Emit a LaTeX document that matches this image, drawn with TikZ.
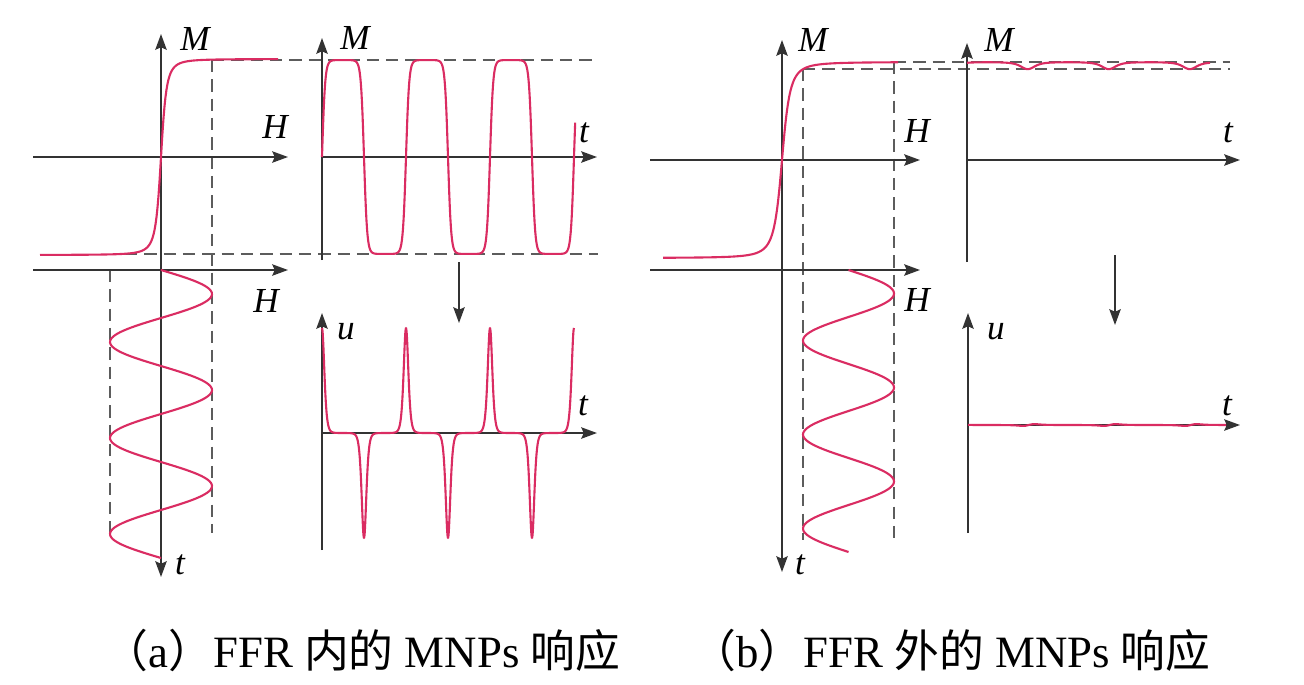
\documentclass[tikz,border=0pt]{standalone}
\usepackage{fontspec}
\setmainfont{Liberation Serif}
\newfontfamily\cjk{Noto Sans CJK SC}
\usetikzlibrary{arrows.meta}
\definecolor{ax}{HTML}{333333}
\definecolor{gd}{HTML}{5C5C5C}
\definecolor{rd}{HTML}{DA2C62}
\newcommand{\zh}[1]{{\cjk #1}}

\tikzset{
  >={Stealth[length=9pt, width=6.5pt, inset=1.5pt]},
  axis/.style={draw=ax, line width=1.1pt, ->},
  guide/.style={draw=gd, line width=1pt, dash pattern=on 7pt off 4pt},
  curve/.style={draw=rd, line width=1.2pt, line join=round},
  lbl/.style={font=\fontsize{20}{24}\selectfont\itshape, inner sep=0pt},
  captext/.style={font=\fontsize{25.5}{30}\selectfont, inner sep=0pt},
  declare function={alg(\z)=\z/sqrt(1+(\z)^2);
                    dalg(\z)=1/(1+(\z)^2)^1.5;
                    sat(\z)=tanh(max(-4,min(4,\z)));
                    sechsq(\z)=1-(sat(\z))^2;}
}

\begin{document}
\begin{tikzpicture}[x=0.02cm, y=-0.02cm]
  \useasboundingbox (0,0) rectangle (1304,684);

  % (a) guides
  \draw[guide] (212,60) -- (598,60);
  \draw[guide] (125,254) -- (598,254);
  \draw[guide] (212,60) -- (212,533);
  \draw[guide] (110,270) -- (110,533);

  % (a) M-H axes
  \coordinate (aHw) at (33,157);
  \coordinate (aHe) at (288,157);
  \coordinate (aLw) at (33,270);
  \coordinate (aLe) at (288,270);
  \coordinate (aMn) at (161,34);
  \coordinate (aTs) at (161,577);
  \draw[axis] (aHw) -- (aHe);
  \draw[axis] (aLw) -- (aLe);
  \draw[axis, <->] (aTs) -- (aMn);
  \node[lbl] (aM) at (195,39) {M};
  \node[lbl] (aH) at (275,127) {H};
  \node[lbl] (aHl) at (266,301) {H};
  \node[lbl] (at) at (180,565) {t};

  % (a) M-t axes
  \coordinate (bOs) at (322,260);
  \coordinate (bMn) at (322,38);
  \coordinate (bO) at (322,157);
  \coordinate (bTe) at (597,157);
  \draw[axis] (bOs) -- (bMn);
  \draw[axis] (bO) -- (bTe);
  \node[lbl] (bM) at (355,38) {M};
  \node[lbl] (bt) at (584,133) {t};

  % (a) u-t axes
  \coordinate (cOs) at (322,550);
  \coordinate (cUn) at (322,313);
  \coordinate (cO) at (322,433);
  \coordinate (cTe) at (597,433);
  \draw[axis] (cOs) -- (cUn);
  \draw[axis] (cO) -- (cTe);
  \node[lbl] (cu) at (346,332) {u};
  \node[lbl] (ct) at (583,406) {t};

  % (a) step arrow
  \coordinate (aAn) at (459,262);
  \coordinate (aAs) at (459,323);
  \draw[axis] (aAn) -- (aAs);

  % (a) curves
  \draw[curve] plot[domain=40:278, samples=240] (\x, {157-98*alg((\x-161)/5.8)});
  \draw[curve] plot[domain=0:1080, samples=200, variable=\t] ({161+51*sin(\t)}, {270+\t/360*96});
  \draw[curve] plot[domain=0:1085, samples=451, variable=\t] ({322+\t/360*84}, {157-97*sat(4.25*sin(\t))});
  \draw[curve] plot[domain=0:1080, samples=721, variable=\t] ({322+\t/360*84}, {433-105*cos(\t)*sechsq(4.25*sin(\t))});

  % (b) guides
  \draw[guide] (894,62) -- (1230,62);
  \draw[guide] (803,69) -- (1230,69);
  \draw[guide] (803,69) -- (803,540);
  \draw[guide] (894,62) -- (894,540);

  % (b) M-H axes
  \coordinate (dHw) at (650,160);
  \coordinate (dHe) at (920,160);
  \coordinate (dLw) at (650,270);
  \coordinate (dLe) at (920,270);
  \coordinate (dMn) at (782,40);
  \coordinate (dTs) at (782,572);
  \draw[axis] (dHw) -- (dHe);
  \draw[axis] (dLw) -- (dLe);
  \draw[axis, <->] (dTs) -- (dMn);
  \node[lbl] (dM) at (813,40) {M};
  \node[lbl] (dH) at (917,131) {H};
  \node[lbl] (dHl) at (917,300) {H};
  \node[lbl] (dt) at (800,565) {t};

  % (b) M-t axes
  \coordinate (eOs) at (967,262);
  \coordinate (eMn) at (967,43);
  \coordinate (eO) at (967,160);
  \coordinate (eTe) at (1240,160);
  \draw[axis] (eOs) -- (eMn);
  \draw[axis] (eO) -- (eTe);
  \node[lbl] (eM) at (999,40) {M};
  \node[lbl] (et) at (1228,133) {t};

  % (b) u-t axes
  \coordinate (fOs) at (968,533);
  \coordinate (fUn) at (968,313);
  \coordinate (fO) at (968,425);
  \coordinate (fTe) at (1240,425);
  \draw[axis] (fOs) -- (fUn);
  \draw[axis] (fO) -- (fTe);
  \node[lbl] (fu) at (996,332) {u};
  \node[lbl] (ft) at (1227,406) {t};

  % (b) step arrow
  \coordinate (bAn) at (1115,255);
  \coordinate (bAs) at (1115,325);
  \draw[axis] (bAn) -- (bAs);

  % (b) curves
  \draw[curve] plot[domain=663:898, samples=240] (\x, {160-98*alg((\x-782)/8.5)});
  \draw[curve] plot[domain=0:1080, samples=200, variable=\t] ({848.5+45.5*sin(\t)}, {270+\t/360*94});
  \draw[curve] plot[domain=0:1080, samples=300, variable=\t] ({967+\t/360*81}, {160-98*alg((66.5+45.5*sin(\t))/8.5)});
  \draw[curve] plot[domain=0:1080, samples=300, variable=\t] ({968+\t/360*81}, {425-64*cos(\t)*dalg((66.5+45.5*sin(\t))/8.5)}) -- (1226,425);

  % captions
  \node[captext] (capA) at (362,650) {\zh{（}a\zh{）}FFR \zh{内的} MNPs \zh{响应}};
  \node[captext] (capB) at (951,650) {\zh{（}b\zh{）}FFR \zh{外的} MNPs \zh{响应}};
\end{tikzpicture}
\end{document}
